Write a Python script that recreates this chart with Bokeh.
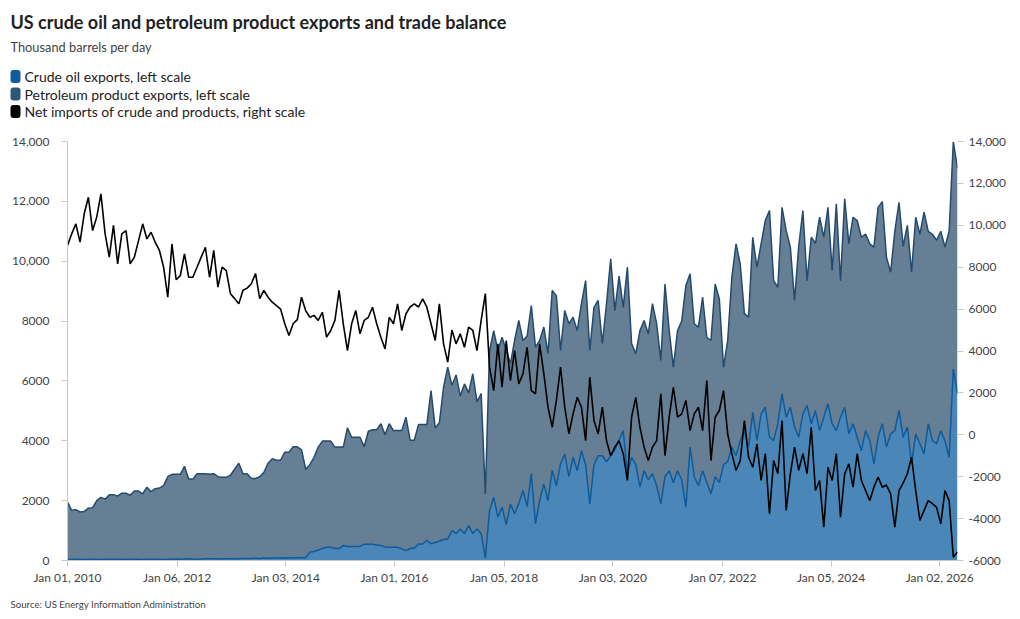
import pandas as pd
from bokeh.plotting import figure
from bokeh.layouts import column
from bokeh.models import (Range1d, LinearAxis, FixedTicker, DatetimeTickFormatter,
                          ColumnDataSource)
from bokeh.core.properties import value
from bokeh.embed import file_html
from bokeh.resources import INLINE

# ---------------- data (thousand barrels per day, 4-weekly readings) ----------------
start_date = "2010-01-01"
n_points = 214

crude_exports = [
    40, 35, 45, 40, 30, 40, 45, 40, 35, 40, 45, 40, 40,
    40, 35, 40, 45, 40, 35, 40, 45, 40, 40, 35, 40, 45,
    50, 45, 50, 55, 50, 45, 50, 55, 60, 55, 50, 60, 55,
    60, 65, 60, 70, 65, 70, 75, 70, 80, 75, 80, 85, 80,
    90, 85, 95, 90, 100, 95, 280, 300, 350, 400, 440, 440, 400,
    400, 500, 470, 470, 470, 470, 540, 540, 540, 520, 500, 450, 440,
    440, 440, 390, 330, 400, 420, 550, 550, 670, 560, 600, 650, 700,
    720, 1000, 900, 1050, 900, 1170, 900, 1050, 900, 80, 1670, 2110, 1450,
    1780, 1200, 1890, 1560, 1900, 2340, 1800, 2900, 1230, 2000, 2560, 2000, 3010,
    2500, 3230, 3560, 2800, 3450, 3000, 3670, 3200, 1890, 3200, 3500, 3500, 3300,
    3500, 3700, 4000, 4340, 2900, 3450, 3200, 2450, 3000, 2700, 2900, 2500, 1890,
    2800, 3000, 2600, 3000, 2700, 1780, 3790, 2800, 2500, 3000, 2600, 2230, 2800,
    2600, 3200, 3300, 3790, 3500, 4000, 4340, 3790, 4950, 4010, 4900, 5120, 4120,
    4010, 4570, 5570, 4790, 5120, 4460, 4120, 4900, 5180, 4570, 5010, 4340, 4790,
    5240, 4570, 4340, 4790, 5120, 4230, 4570, 4120, 3670, 4340, 4010, 3230, 4120,
    4570, 3790, 4230, 4340, 5010, 4120, 4460, 3230, 4230, 3900, 3560, 4570, 4010,
    3900, 4340, 4000, 3450, 6400, 5570,
]

product_exports = [
    1910, 1645, 1655, 1580, 1610, 1710, 1715, 1960, 2075, 2010, 2155, 2160, 2110,
    2210, 2215, 2140, 2275, 2280, 2195, 2410, 2255, 2360, 2380, 2465, 2760, 2835,
    2830, 2835, 3100, 2665, 2670, 2855, 2850, 2845, 2820, 2845, 2750, 2720, 2725,
    2790, 2985, 3190, 2830, 2835, 2670, 2665, 2730, 2870, 3175, 3320, 3265, 3270,
    3530, 3535, 3705, 3710, 3600, 2955, 2920, 3150, 3440, 3590, 3550, 3550, 3390,
    3390, 3290, 3960, 3650, 3650, 3650, 3260, 3780, 3830, 3850, 4070, 3750, 4130,
    3900, 3900, 3950, 4460, 3620, 3600, 3990, 3990, 3870, 5120, 3830, 3950, 5090,
    5740, 4850, 5300, 4450, 5000, 4430, 5340, 4250, 4680, 2150, 5330, 5570, 5570,
    5680, 5820, 4690, 5790, 6120, 5010, 5700, 5620, 5900, 5350, 5240, 4910, 6010,
    6350, 3790, 4790, 5110, 4680, 4680, 4910, 6150, 5130, 5260, 5190, 3750, 5280,
    6580, 4650, 5500, 4120, 6900, 3800, 3710, 5230, 5020, 4870, 5680, 5410, 4790,
    6440, 4680, 3860, 4680, 5300, 7410, 5790, 5110, 5300, 5800, 4860, 5120, 6440,
    6140, 3260, 4050, 5680, 7080, 5910, 3910, 4340, 5850, 5790, 5680, 6240, 7570,
    5340, 4560, 6230, 6230, 5350, 4230, 6380, 6790, 4170, 6230, 5590, 7130, 6010,
    6560, 5120, 7580, 4560, 6970, 6350, 6900, 7240, 7130, 6570, 6570, 7240, 7680,
    7420, 6340, 5400, 6660, 6960, 6380, 6740, 6400, 7240, 7000, 8080, 6430, 6890,
    6800, 6660, 6470, 7550, 7600, 7530,
]

net_imports = [
    9035, 9590, 10070, 9200, 10550, 11340, 9750, 10390, 11500, 9590, 8480, 10000, 8160,
    9590, 9750, 8160, 8480, 9270, 10070, 9350, 9670, 9190, 8800, 8000, 6570, 9110,
    7400, 7600, 8640, 7520, 7520, 8000, 8480, 8950, 7520, 8800, 7050, 8000, 7840,
    6730, 6500, 6250, 6900, 7000, 7210, 7700, 6500, 6890, 6570, 6330, 6170, 6000,
    5300, 4740, 5300, 5500, 6570, 5930, 5610, 5700, 5460, 5850, 4660, 4980, 5460,
    6890, 5300, 4020, 5300, 5930, 4820, 5460, 5610, 6090, 5300, 4660, 4100, 5610,
    5300, 6250, 4980, 5780, 6100, 6250, 6100, 6490, 6090, 5300, 4500, 6250, 4340,
    3470, 5000, 4340, 4820, 4180, 5140, 4980, 4020, 5460, 6740, 3230, 2110, 4340,
    2270, 4500, 2590, 4020, 2430, 2910, 4180, 2110, 1960, 4340, 2910, 1320, 360,
    1640, 3230, 1320, 40, 1000, 1790, 1320, -280, 2750, 680, 40, 1320, -280,
    -1000, -590, -280, -900, -2180, 840, 1790, 360, -590, -1230, -590, -280, 1960,
    -1000, 840, 2270, 840, 1000, 1640, 200, 1000, 1320, 200, 2590, -1230, 840,
    1160, 2110, 40, -900, -1700, -1230, 680, -1070, -1550, -430, -2180, -900, -3770,
    -1230, -1860, 680, -3610, -1860, -590, -1700, -900, -1860, 360, -2660, -2180, -4410,
    -1550, -2180, -900, -3930, -1860, -1390, -2500, -900, -2180, -2660, -3140, -2500, -2020,
    -2500, -2400, -2820, -4410, -2660, -2300, -1860, -1070, -2660, -4090, -3610, -3140, -3290,
    -3460, -4250, -2660, -3140, -5840, -5600,
]

x_tick_dates = ["2010-01-01", "2012-01-06", "2014-01-03", "2016-01-01", "2018-01-05",
                "2020-01-03", "2022-01-07", "2024-01-05", "2026-01-02"]
left_ticks = [0, 2000, 4000, 6000, 8000, 10000, 12000, 14000]
right_ticks = [-6000, -4000, -2000, 0, 2000, 4000, 6000, 8000, 10000, 12000, 14000]

title_text = "US crude oil and petroleum product exports and trade balance"
subtitle_text = "Thousand barrels per day"
series_labels = ["Crude oil exports, left scale",
                 "Petroleum product exports, left scale",
                 "Net imports of crude and products, right scale"]
source_text = "Source: US Energy Information Administration"

# ---------------- styling ----------------
FONT = "Lato"
CRUDE_FILL = "#4a87b8"
CRUDE_LINE = "#0d5a9c"
PROD_FILL = "#667f94"
PROD_LINE = "#244a6d"
LEGEND_COLORS = ["#0e5c9d", "#2d5677", "#000000"]
AXIS_GREY = "#c8c8c8"
LABEL_GREY = "#444444"
W = 1020


def blank_figure(height):
    f = figure(width=W, height=height, x_range=Range1d(0, W), y_range=Range1d(height, 0),
               x_axis_location=None, y_axis_location=None, min_border=0,
               output_backend="svg", toolbar_location=None)
    f.frame_align = False
    f.xgrid.visible = False
    f.ygrid.visible = False
    f.outline_line_color = None
    f.border_fill_color = "white"
    return f


# ---------------- header ----------------
HEADER_H = 130
hdr = blank_figure(HEADER_H)
hdr.text(x=[10], y=[21], text=[title_text], text_font=value(FONT), text_font_size="18px",
         text_font_style="bold", text_color="#222222", text_baseline="middle")
hdr.text(x=[10], y=[46], text=[subtitle_text], text_font=value(FONT), text_font_size="12.8px",
         text_color=LABEL_GREY, text_baseline="middle")
leg_y = [76 + k * 17.5 for k in range(len(series_labels))]
hdr.quad(left=[10] * 3, right=[20] * 3, top=[y - 6.5 for y in leg_y],
         bottom=[y + 6.5 for y in leg_y], fill_color=LEGEND_COLORS, line_color=None,
         border_radius=3)
hdr.text(x=[24] * 3, y=leg_y, text=series_labels, text_font=value(FONT),
         text_font_size="14px", text_color="#222222", text_baseline="middle")

# ---------------- main chart ----------------
dates = pd.date_range(start_date, periods=n_points, freq="28D")
src = ColumnDataSource(dict(date=dates, crude=crude_exports,
                            products=product_exports, net=net_imports))

MAIN_H = 457
p = figure(width=W, height=MAIN_H, x_axis_type="datetime",
           output_backend="svg", toolbar_location=None,
           x_range=Range1d(dates[0], dates[-1]), y_range=Range1d(0, 14000),
           min_border_left=67, min_border_right=63,
           min_border_top=11, min_border_bottom=27)
p.frame_align = False
p.extra_y_ranges = {"right": Range1d(-6000, 14000)}

p.varea_stack(["crude", "products"], x="date", color=[CRUDE_FILL, PROD_FILL], source=src)
p.vline_stack(["crude", "products"], x="date", color=[CRUDE_LINE, PROD_LINE],
              line_width=1.5, source=src)
p.line("date", "net", y_range_name="right", color="black", line_width=1.6, source=src)

ms = lambda d: pd.Timestamp(d).value / 1e6
p.xaxis.ticker = FixedTicker(ticks=[ms(d) for d in x_tick_dates])
fmt = "%b %d, %Y"
p.xaxis.formatter = DatetimeTickFormatter(microseconds=fmt, milliseconds=fmt, seconds=fmt,
                                          minsec=fmt, minutes=fmt, hourmin=fmt, hours=fmt,
                                          days=fmt, months=fmt, years=fmt)
p.yaxis.ticker = FixedTicker(ticks=left_ticks)
p.yaxis.major_label_overrides = {v: (f"{v:,}" if v >= 10000 else str(v)) for v in left_ticks}

right_axis = LinearAxis(y_range_name="right", ticker=FixedTicker(ticks=right_ticks))
right_axis.major_label_overrides = {v: (f"{v:,}" if v >= 10000 else str(v)) for v in right_ticks}
p.add_layout(right_axis, "right")

for ax in [p.xaxis[0], p.yaxis[0], right_axis]:
    ax.axis_line_color = AXIS_GREY
    ax.major_tick_line_color = AXIS_GREY
    ax.major_tick_in = 0
    ax.major_tick_out = 6
    ax.minor_tick_line_color = None
    ax.major_label_text_font = FONT
    ax.major_label_text_font_size = "12px"
    ax.major_label_text_color = LABEL_GREY
p.yaxis[0].major_label_standoff = 12
right_axis.major_label_standoff = 5
right_axis.axis_line_color = None
p.xaxis[0].major_label_standoff = 3

p.xgrid.visible = False
p.ygrid.visible = False
p.outline_line_color = None
p.border_fill_color = "white"

# ---------------- footer ----------------
FOOTER_H = 619 - HEADER_H - MAIN_H
ftr = blank_figure(FOOTER_H)
ftr.text(x=[10], y=[603 - HEADER_H - MAIN_H], text=[source_text], text_font=value(FONT),
         text_font_size="9.7px", text_color=LABEL_GREY, text_baseline="middle")

layout = column(hdr, p, ftr, spacing=0)
open("out.html", "w").write(file_html(layout, INLINE))
